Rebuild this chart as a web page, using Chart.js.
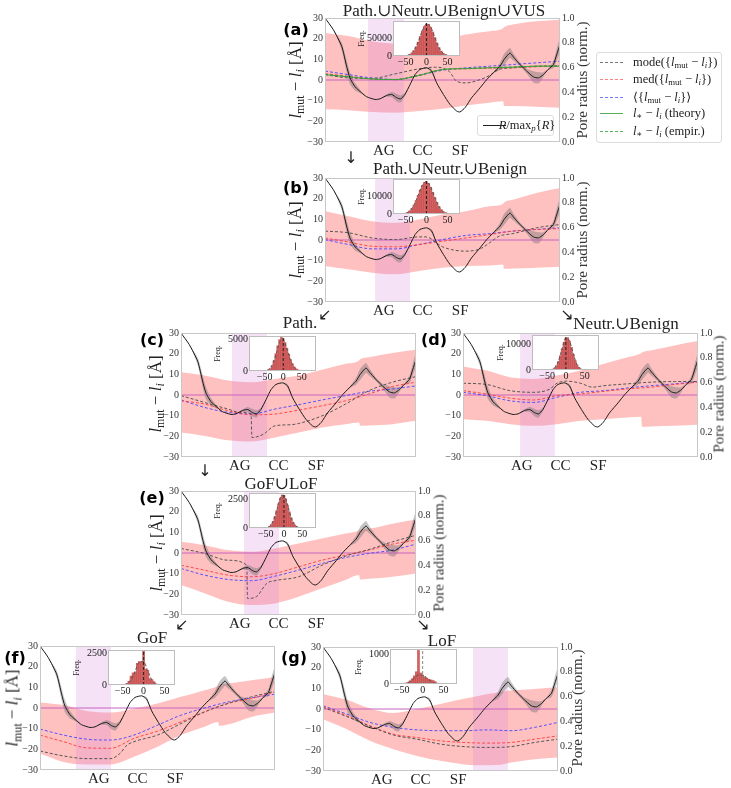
<!DOCTYPE html>
<html>
<head>
<meta charset="utf-8">
<title>l_mut - l_i along the pore axis</title>
<script src="https://cdn.jsdelivr.net/npm/chart.js@4.4.1/dist/chart.umd.min.js"></script>
<style>
  html, body { margin: 0; padding: 0; background: #fff; }
  #fig { position: relative; width: 731px; height: 788px; overflow: hidden;
         font-family: 'Liberation Serif', 'DejaVu Serif', serif; color: #222; }
  #fig canvas { position: absolute; }
  .lbl { position: absolute; white-space: nowrap; line-height: 1; z-index: 5; }
  .title { font-size: 17px; }
  .arrow { font-family: 'DejaVu Sans', sans-serif; font-size: 16px; }
  .tag { font-family: 'DejaVu Sans', sans-serif; font-weight: bold; font-size: 16px; color: #000; }
  .ytitle { font-size: 17px; }
  .rtitle { font-size: 15px; color: #333; }
  .leg { font-size: 12.5px; }
  sub { font-size: 70%; vertical-align: -0.3em; line-height: 0; }
  .box { position: absolute; border: 1px solid #ddd; border-radius: 3px; background: #fff;
         box-sizing: border-box; z-index: 4; }
  .sw { position: absolute; width: 23px; height: 0; z-index: 5; }
</style>
</head>
<body>
<div id="fig"></div>
<script>
// ---- shared axis data ----
const TICK_POS = [25, 41.5, 57.5];
const TICK_LABELS = ['AG', 'CC', 'SF'];
const Y_TICKS = [-30, -20, -10, 0, 10, 20, 30];
const Y1_TICKS = [0, 0.2, 0.4, 0.6, 0.8, 1.0];
const GRID_X = [0, 10, 20, 30, 40, 50, 60, 70, 80, 90, 100];
const BAND_X = [0, 10, 20, 30, 40, 50, 60, 70, 75.8, 76.2, 80, 90, 100];

// pore radius profile (normalised), same in every panel, with its spread
const PORE_X = [0, 3.5, 7.1, 9.2, 10.6, 12.8, 15.6, 17.7, 21.3, 23.4, 26.2, 28.4, 30.5, 32.2, 34.0, 36.2,
                38.3, 40.4, 43.3, 45.4, 47.5, 50.4, 53.2, 56.0, 57.4, 59.6, 62.4, 66.0, 68.8, 71.6, 74.5,
                76.2, 78.7, 80.1, 83.0, 85.8, 88.7, 90.8, 92.9, 95.0, 97.2, 98.6, 100];
const PORE_R = [1.000, 0.907, 0.772, 0.612, 0.517, 0.445, 0.397, 0.365, 0.343, 0.348, 0.375, 0.383, 0.357,
                0.348, 0.383, 0.463, 0.543, 0.585, 0.598, 0.572, 0.477, 0.383, 0.303, 0.250, 0.242, 0.277,
                0.357, 0.437, 0.503, 0.558, 0.612, 0.665, 0.718, 0.687, 0.625, 0.572, 0.525, 0.517, 0.543,
                0.585, 0.625, 0.705, 0.785];
const PORE_W = [0, 0, 0.03, 0.05, 0.05, 0.03, 0.01, 0, 0, 0, 0.01, 0.02, 0.03, 0.03, 0.015, 0, 0, 0, 0,
                0.015, 0, 0, 0, 0, 0, 0, 0, 0, 0, 0.005, 0.03, 0.045, 0.04, 0.03, 0.015, 0.02, 0.045, 0.045,
                0.02, 0.005, 0.03, 0.05, 0.06];

// ---- panel (a) Path.∪Neutr.∪Benign∪VUS ----
const A_HI = [22.8, 21.3, 18.7, 17.6, 17.6, 19.5, 22.0, 23.6, 25.0, 25.5, 26.8, 28.4, 29.2];
const A_LO = [-14.2, -14.6, -15.5, -15.8, -15.0, -13.9, -12.3, -11.0, -10.3, -12.6, -12.6, -13.0, -13.4];
const A_MEAN = [4.3, 2.6, 1.0, 0.2, 2.2, 4.7, 5.9, 6.7, 7.5, 8.3, 9.1];
const A_MED = [3.1, 1.8, 0.5, 0.2, 2.4, 5.0, 5.4, 5.7, 5.9, 6.4, 7.0];
const A_THEORY = [2.6, 1.5, 0.5, 0.2, 2.2, 5.1, 5.5, 5.9, 6.2, 6.7, 6.7];
const A_EMPIR = [2.8, 1.6, 0.5, 0.3, 2.3, 5.0, 5.6, 6.0, 6.3, 6.6, 6.8];
const A_MODE_X = [0, 10, 20, 30, 40, 47, 50, 53, 56, 60, 66, 70, 74, 80, 90, 100];
const A_MODE = [2.6, 1.0, 0.8, 3.0, 5.4, 6.2, 5.8, 4.0, -0.6, -1.4, 0.2, 2.2, 5.1, 5.9, 6.7, 6.7];
const A_SPAN = [18.3, 33.6];

// ---- panel (b) Path.∪Neutr.∪Benign ----
const B_HI = [13.9, 11.5, 9.1, 8.3, 9.9, 12.3, 13.9, 16.3, 17.6, 18.2, 19.5, 22.8, 25.2];
const B_LO = [-12.6, -14.2, -15.8, -16.6, -15.0, -13.4, -12.6, -12.3, -11.8, -13.9, -13.8, -13.4, -13.0];
const B_MEAN = [0.2, -2.2, -4.3, -4.3, -2.2, 0.2, 2.2, 3.1, 4.3, 5.1, 5.9];
const B_MED = [1.0, -1.0, -3.0, -3.3, -2.2, -0.6, 1.0, 2.6, 4.3, 5.1, 5.5];
const B_MODE_X = [0, 10, 20, 30, 40, 43, 50, 60, 66, 70, 74, 80, 90, 100];
const B_MODE = [4.3, 3.5, 1.0, 0.2, 1.5, 1.5, -3.3, -5.4, -4.3, -1.4, 1.8, 3.1, 5.9, 7.5];
const B_SPAN = [21.3, 36.2];

// ---- panel (c) Path. ----
const C_HI = [11.0, 9.4, 7.0, 6.2, 7.8, 9.4, 12.2, 15.1, 16.7, 17.3, 18.3, 20.3, 21.9];
const C_LO = [-18.2, -19.8, -21.9, -22.5, -20.6, -18.2, -15.7, -14.1, -13.3, -14.9, -14.7, -14.1, -12.5];
const C_MEAN = [-2.4, -6.0, -8.4, -9.2, -6.8, -4.7, -2.4, -0.3, 1.8, 2.9, 4.4];
const C_MED = [-2.8, -4.4, -7.6, -9.6, -9.2, -7.3, -5.2, -2.8, 0.5, 4.1, 6.2];
const C_MODE_X = [0, 10, 20, 25, 29.8, 30.2, 35, 40, 46.5, 50, 60, 70, 80, 90, 100];
const C_MODE = [-0.3, -3.6, -6.8, -8.4, -9.2, -20.6, -19.0, -14.9, -14.4, -13.8, -10.1, -4.4, 2.1, 6.2, 8.9];
const C_SPAN = [21.7, 36.6];

// ---- panel (d) Neutr.∪Benign ----
const D_HI = [13.8, 11.8, 8.6, 7.8, 9.4, 11.8, 15.1, 18.3, 20.2, 20.6, 21.5, 24.0, 26.1];
const D_LO = [-11.7, -12.5, -14.1, -14.9, -14.1, -12.5, -11.7, -10.9, -10.5, -15.4, -15.2, -14.9, -14.4];
const D_MEAN = [1.3, -0.3, -2.8, -3.6, -1.1, 1.3, 2.1, 3.4, 4.5, 5.4, 6.5];
const D_MED = [2.1, 0.5, -1.5, -2.4, -0.3, 0.5, 1.8, 2.9, 3.8, 5.1, 6.2];
const D_MODE_X = [0, 10, 20, 30, 37, 40, 44, 50, 55, 60, 70, 80, 90, 100];
const D_MODE = [5.7, 5.1, 2.1, 1.3, 2.9, 5.7, 6.7, 5.7, 3.8, 4.5, 5.4, 6.2, 6.5, 6.5];
const D_SPAN = [24.3, 39.1];

// ---- panel (e) GoF∪LoF ----
const E_HI = [5.4, 3.8, 1.4, 0.6, 2.2, 4.6, 7.0, 9.4, 11.0, 11.4, 11.8, 14.2, 16.2];
const E_LO = [-15.5, -19.5, -23.6, -25.2, -24.4, -21.2, -17.1, -13.1, -10.7, -12.8, -12.5, -11.5, -9.9];
const E_MEAN = [-7.5, -10.7, -12.8, -13.4, -11.2, -8.3, -5.1, -2.2, -0.2, 1.4, 4.3];
const E_MED = [-5.9, -8.3, -10.7, -11.5, -9.9, -6.7, -3.5, -1.0, 1.4, 4.3, 6.2];
const E_MODE_X = [0, 10, 20, 28, 28.3, 32, 36.5, 40, 50, 60, 70, 80, 90, 100];
const E_MODE = [2.2, -0.2, -3.5, -5.9, -22.0, -21.2, -14.7, -13.4, -11.5, -5.9, -1.5, 1.7, 5.4, 8.6];
const E_SPAN = [26.8, 41.7];

// ---- panel (f) GoF ----
const F_HI = [2.7, 1.4, -1.5, -2.2, -0.2, 2.2, 5.4, 8.6, 10.8, 11.2, 11.8, 13.4, 15.0];
const F_LO = [-22.0, -26.1, -27.3, -27.3, -23.6, -18.7, -13.1, -9.1, -6.8, -8.6, -8.0, -4.3, -2.2];
const F_MEAN = [-10.2, -13.1, -15.1, -15.5, -13.1, -8.3, -3.5, 0.0, 2.9, 4.9, 6.7];
const F_MED = [-13.1, -16.3, -19.3, -19.5, -14.7, -11.2, -6.7, -1.9, 2.2, 4.6, 7.8];
const F_MODE_X = [0, 10, 20, 30, 34, 37, 40, 50, 60, 70, 80, 90, 100];
const F_MODE = [-20.8, -23.2, -24.5, -24.5, -22.0, -18.0, -16.3, -13.1, -7.5, -1.9, 2.2, 5.4, 8.1];
const F_SPAN = [15.3, 30.2];

// ---- panel (g) LoF ----
const G_HI = [7.3, 4.5, 0.3, -1.9, 0.0, 2.4, 4.9, 7.3, 8.4, 8.5, 8.9, 9.7, 10.5];
const G_LO = [-4.9, -9.7, -15.4, -19.5, -22.7, -25.1, -26.8, -27.2, -27.0, -26.9, -25.9, -24.3, -23.5];
const G_MEAN = [1.6, -2.4, -6.5, -8.9, -10.1, -10.5, -10.5, -10.1, -10.5, -8.9, -6.5];
const G_MED = [1.3, -3.2, -8.1, -12.2, -13.8, -15.4, -16.2, -16.5, -16.2, -14.6, -13.0];
const G_MODE_X = GRID_X;
const G_MODE = [0.8, -3.6, -8.4, -12.6, -14.6, -17.0, -18.2, -18.6, -18.2, -16.2, -14.6];
const G_SPAN = [63.8, 78.7];

// ---- inset histograms of l_mut - l_i ----
const HIST_X = [-65, -60, -55, -50, -45, -40, -35, -30, -25, -20, -15, -10, -5, 0, 5, 10, 15, 20, 25,
                30, 35, 40, 45, 50, 55, 60, 65];
const HIST_TICKS = [-50, 0, 50];
const H_A = [40, 120, 330, 850, 2000, 4400, 8600, 15700, 26000, 39800, 55800, 71700, 84500, 91400, 90600,
             82300, 68600, 52500, 36700, 23700, 14000, 7600, 3700, 1700, 700, 280, 100];
const H_B = [33, 86, 205, 457, 930, 1770, 3110, 5050, 7610, 10600, 13700, 16300, 18050, 18470, 17500,
             15350, 12470, 9370, 6520, 4200, 2500, 1380, 705, 335, 146, 59, 22];
const H_C = [0, 1, 3, 13, 47, 142, 370, 835, 1630, 2720, 3940, 4920, 5300, 5080, 4460, 3590, 2650, 1800,
             1120, 640, 330, 160, 70, 28, 10, 3, 1];
const H_D = [0, 1, 2, 10, 35, 113, 318, 780, 1705, 3270, 5520, 8200, 10700, 12310, 12470, 11120, 8730,
             6030, 3660, 1960, 925, 385, 140, 45, 13, 3, 1];
const H_E = [1, 2, 7, 22, 59, 141, 303, 585, 1005, 1550, 2140, 2645, 2925, 2890, 2560, 2030, 1435, 905,
             518, 263, 119, 48, 18, 6, 2, 1, 0];
const H_F = [0, 0, 0, 5, 40, 120, 300, 700, 950, 1000, 1700, 1850, 1800, 2680, 1250, 1150, 500, 420, 250,
             90, 40, 15, 5, 0, 0, 0, 0];
const H_G = [0, 0, 0, 5, 10, 30, 60, 110, 180, 280, 420, 1150, 380, 300, 250, 200, 160, 140, 120, 80, 30,
             10, 3, 0, 0, 0, 0];
const FIT_X = [-70, -60, -50, -40, -30, -20, -10, 0, 10, 20, 30, 40, 50, 60, 70];
const FIT_A = [20, 120, 850, 4400, 15700, 39800, 71700, 91400, 82300, 52500, 23700, 7600, 1700, 280, 30];
const FIT_B = [10, 86, 457, 1770, 5050, 10600, 16300, 18470, 15350, 9370, 4200, 1380, 335, 59, 8];
const FIT_C = [0, 4, 40, 230, 900, 2500, 4500, 4900, 3400, 1600, 550, 120, 20, 2, 0];
const FIT_D = [0, 1, 10, 113, 780, 3270, 8200, 12310, 11120, 6030, 1960, 385, 45, 3, 0];
const FIT_E = [0, 2, 22, 141, 585, 1550, 2645, 2890, 2030, 905, 263, 48, 6, 1, 0];
const FIT_F = [0, 0, 12, 85, 400, 1100, 1800, 1850, 1100, 400, 85, 12, 1, 0, 0];
const FIT_G = [0, 0, 4, 22, 83, 200, 310, 310, 200, 83, 22, 4, 0, 0, 0];

// ---- colours ----
const SERIF = "'Liberation Serif', 'DejaVu Serif', serif";
const BAND_COLOR = 'rgba(255, 130, 130, 0.5)';
const SPAN_COLOR = 'rgba(215, 140, 225, 0.25)';
const GREY_BAND = 'rgba(110, 110, 110, 0.4)';
const ZERO_COLOR = 'rgb(200, 100, 190)';
const MODE_COLOR = '#555';
const MED_COLOR = 'rgba(255, 60, 60, 0.9)';
const MEAN_COLOR = 'rgba(70, 70, 255, 0.9)';
const GREEN = 'rgb(60, 160, 60)';
const HIST_COLOR = 'rgba(200, 70, 70, 0.85)';
const NONE = 'rgba(0, 0, 0, 0)';
const NO_GRID = { display: false, drawTicks: false };

const fig = document.getElementById('fig');

function pts(xs, ys) {
    return xs.map(function (x, i) { return { x: x, y: ys[i] }; });
}

function minus(v) {
    return v < 0 ? '\u2212' + Math.abs(v) : String(v);
}

// white plot background (insets) and grey frame round the plot area
const framePlugin = {
    id: 'frame',
    beforeDraw: function (chart, args, opts) {
        if (!opts.fill) return;
        const a = chart.chartArea;
        chart.ctx.save();
        chart.ctx.fillStyle = opts.fill;
        chart.ctx.fillRect(a.left, a.top, a.width, a.height);
        chart.ctx.restore();
    },
    afterDatasetsDraw: function (chart, args, opts) {
        const a = chart.chartArea, ctx = chart.ctx;
        ctx.save();
        ctx.strokeStyle = opts.color || '#c8c8c8';
        ctx.lineWidth = 1;
        ctx.strokeRect(a.left + 0.5, a.top + 0.5, a.width - 1, a.height - 1);
        ctx.restore();
    }
};

function addCanvas(x, y, w, h) {
    const c = document.createElement('canvas');
    c.width = w;
    c.height = h;
    c.style.left = x + 'px';
    c.style.top = y + 'px';
    c.style.width = w + 'px';
    c.style.height = h + 'px';
    fig.appendChild(c);
    return c;
}

function put(html, cx, cy, cls, rotate) {
    const d = document.createElement('div');
    d.className = 'lbl ' + (cls || '');
    d.innerHTML = html;
    d.style.left = cx + 'px';
    d.style.top = cy + 'px';
    d.style.transform = 'translate(-50%, -50%)' + (rotate ? ' rotate(-90deg)' : '');
    fig.appendChild(d);
}

function dashed(data, color, dash, extra) {
    return Object.assign({
        data: data, borderColor: color, borderWidth: 1, borderDash: dash,
        pointRadius: 0, fill: false, cubicInterpolationMode: 'monotone'
    }, extra || {});
}

function drawPanel(p) {
    const W = 235, H = 124, LW = 40, RW = 28, TP = 7, BH = 24;
    const canvas = addCanvas(p.left - LW, p.top - TP, LW + W + RW, TP + H + BH);

    const datasets = [
        { data: [{ x: p.span[0], y: 30 }, { x: p.span[1], y: 30 }], fill: 'start',
          backgroundColor: SPAN_COLOR, borderColor: NONE, borderWidth: 0, pointRadius: 0, order: 9 },
        { data: pts(BAND_X, p.hi), fill: '+1', backgroundColor: BAND_COLOR, borderColor: NONE,
          borderWidth: 0, pointRadius: 0, cubicInterpolationMode: 'monotone', order: 10 },
        { data: pts(BAND_X, p.lo), fill: false, borderColor: NONE, borderWidth: 0, pointRadius: 0,
          cubicInterpolationMode: 'monotone', order: 10 },
        { yAxisID: 'y1', data: PORE_X.map(function (x, i) { return { x: x, y: PORE_R[i] + PORE_W[i] }; }),
          fill: '+1', backgroundColor: GREY_BAND, borderColor: NONE, borderWidth: 0, pointRadius: 0,
          tension: 0.2, order: 8 },
        { yAxisID: 'y1', data: PORE_X.map(function (x, i) { return { x: x, y: PORE_R[i] - PORE_W[i] }; }),
          fill: false, borderColor: NONE, borderWidth: 0, pointRadius: 0, tension: 0.2, order: 8 },
        dashed([{ x: 0, y: 0 }, { x: 100, y: 0 }], ZERO_COLOR, [], { order: 6 }),
        dashed(pts(p.modeX, p.mode), MODE_COLOR, [3, 2], { order: 4 }),
        dashed(pts(GRID_X, p.med), MED_COLOR, [3, 2], { order: 4 }),
        dashed(pts(GRID_X, p.mean), MEAN_COLOR, [3, 2], { order: 4 })
    ];
    if (p.theory) {
        datasets.push(dashed(pts(GRID_X, p.theory), GREEN, [], { order: 3 }));
        datasets.push(dashed(pts(GRID_X, p.empir), GREEN, [3, 2], { order: 3 }));
    }
    datasets.push(dashed(pts(PORE_X, PORE_R), '#1a1a1a', [],
        { yAxisID: 'y1', order: 1, cubicInterpolationMode: 'default', tension: 0.2 }));

    new Chart(canvas, {
        type: 'line',
        data: { datasets: datasets },
        options: {
            responsive: false,
            animation: false,
            events: [],
            layout: { padding: { top: TP, left: 0, right: 0, bottom: 0 } },
            plugins: { legend: { display: false }, tooltip: { enabled: false }, frame: { color: '#c8c8c8' } },
            scales: {
                x: {
                    type: 'linear', min: 0, max: 100,
                    grid: NO_GRID, border: { display: false },
                    afterBuildTicks: function (s) { s.ticks = TICK_POS.map(function (v) { return { value: v }; }); },
                    afterFit: function (s) { s.height = BH; s.paddingLeft = 0; s.paddingRight = 0; },
                    ticks: {
                        callback: function (v, i) { return TICK_LABELS[i]; },
                        font: { family: SERIF, size: 15 }, color: '#222', padding: 0,
                        maxRotation: 0, autoSkip: false
                    }
                },
                y: {
                    position: 'left', min: -30, max: 30,
                    grid: NO_GRID, border: { display: false },
                    afterBuildTicks: function (s) { s.ticks = Y_TICKS.map(function (v) { return { value: v }; }); },
                    afterFit: function (s) { s.width = LW; s.paddingTop = 0; s.paddingBottom = 0; },
                    ticks: { callback: minus, font: { family: SERIF, size: 10 }, color: '#333', padding: 2 }
                },
                y1: {
                    position: 'right', min: 0, max: 1,
                    grid: NO_GRID, border: { display: false },
                    afterBuildTicks: function (s) { s.ticks = Y1_TICKS.map(function (v) { return { value: v }; }); },
                    afterFit: function (s) { s.width = RW; s.paddingTop = 0; s.paddingBottom = 0; },
                    ticks: {
                        display: p.right,
                        callback: function (v) { return v.toFixed(1); },
                        font: { family: SERIF, size: 10 }, color: '#333', padding: 2
                    }
                }
            }
        },
        plugins: [framePlugin]
    });
}

function drawInset(q) {
    const W = 67, H = 35, LW = 36, RW = 4, TP = 6, BH = 13;
    const canvas = addCanvas(q.left - LW, q.top - TP, LW + W + RW, TP + H + BH);
    new Chart(canvas, {
        type: 'bar',
        data: {
            datasets: [
                { type: 'line', data: [{ x: 0, y: 0 }, { x: 0, y: q.ymax }], borderColor: q.vcolor,
                  borderWidth: 1, borderDash: [3, 2], pointRadius: 0, order: 0 },
                { type: 'line', data: pts(FIT_X, q.fit), borderColor: '#555', borderWidth: 1,
                  borderDash: [3, 2], pointRadius: 0, cubicInterpolationMode: 'monotone', order: 1 },
                { type: 'bar', data: pts(HIST_X, q.hist), backgroundColor: HIST_COLOR, borderWidth: 0,
                  barPercentage: 1, categoryPercentage: 1, order: 2 }
            ]
        },
        options: {
            responsive: false,
            animation: false,
            events: [],
            layout: { padding: { top: TP, left: 0, right: RW, bottom: 0 } },
            plugins: {
                legend: { display: false }, tooltip: { enabled: false },
                frame: { color: '#bdbdbd', fill: '#fff' }
            },
            scales: {
                x: {
                    type: 'linear', min: q.xr[0], max: q.xr[1], offset: false,
                    grid: NO_GRID, border: { display: false },
                    afterBuildTicks: function (s) { s.ticks = HIST_TICKS.map(function (v) { return { value: v }; }); },
                    afterFit: function (s) { s.height = BH; s.paddingLeft = 0; s.paddingRight = 0; },
                    ticks: {
                        callback: minus, font: { family: SERIF, size: 10 }, color: '#222',
                        padding: 0, maxRotation: 0, autoSkip: false
                    }
                },
                y: {
                    min: 0, max: q.ymax,
                    grid: NO_GRID, border: { display: false },
                    afterBuildTicks: function (s) { s.ticks = [{ value: 0 }, { value: q.ytick }]; },
                    afterFit: function (s) { s.width = LW; s.paddingTop = 0; s.paddingBottom = 0; },
                    ticks: { callback: function (v) { return String(v); }, font: { family: SERIF, size: 10 },
                             color: '#222', padding: 1 },
                    title: { display: true, text: 'Freq.', font: { family: SERIF, size: 8 }, color: '#222',
                             padding: { top: 0, bottom: 0 } }
                }
            }
        },
        plugins: [framePlugin]
    });
}

// ---- main panels ----
[
    { left: 325, top: 18, hi: A_HI, lo: A_LO, mean: A_MEAN, med: A_MED, modeX: A_MODE_X, mode: A_MODE,
      span: A_SPAN, right: true, theory: A_THEORY, empir: A_EMPIR },
    { left: 325, top: 178, hi: B_HI, lo: B_LO, mean: B_MEAN, med: B_MED, modeX: B_MODE_X, mode: B_MODE,
      span: B_SPAN, right: true },
    { left: 181, top: 333, hi: C_HI, lo: C_LO, mean: C_MEAN, med: C_MED, modeX: C_MODE_X, mode: C_MODE,
      span: C_SPAN, right: false },
    { left: 463, top: 333, hi: D_HI, lo: D_LO, mean: D_MEAN, med: D_MED, modeX: D_MODE_X, mode: D_MODE,
      span: D_SPAN, right: true },
    { left: 181, top: 491, hi: E_HI, lo: E_LO, mean: E_MEAN, med: E_MED, modeX: E_MODE_X, mode: E_MODE,
      span: E_SPAN, right: true },
    { left: 40, top: 646, hi: F_HI, lo: F_LO, mean: F_MEAN, med: F_MED, modeX: F_MODE_X, mode: F_MODE,
      span: F_SPAN, right: false },
    { left: 323, top: 647, hi: G_HI, lo: G_LO, mean: G_MEAN, med: G_MED, modeX: G_MODE_X, mode: G_MODE,
      span: G_SPAN, right: true }
].forEach(drawPanel);

// ---- insets ----
[
    { left: 393, top: 21, hist: H_A, fit: FIT_A, xr: [-80, 80], ymax: 100000, ytick: 50000, vcolor: '#222' },
    { left: 393, top: 179, hist: H_B, fit: FIT_B, xr: [-80, 80], ymax: 20000, ytick: 10000, vcolor: '#222' },
    { left: 249, top: 336, hist: H_C, fit: FIT_C, xr: [-92, 88], ymax: 5500, ytick: 5000, vcolor: '#222' },
    { left: 532, top: 335, hist: H_D, fit: FIT_D, xr: [-90, 88], ymax: 13500, ytick: 10000, vcolor: '#222' },
    { left: 249, top: 493, hist: H_E, fit: FIT_E, xr: [-96, 88], ymax: 3100, ytick: 2500, vcolor: '#222' },
    { left: 108, top: 650, hist: H_F, fit: FIT_F, xr: [-85, 75], ymax: 2750, ytick: 2500, vcolor: '#222' },
    { left: 390, top: 649, hist: H_G, fit: FIT_G, xr: [-78, 82], ymax: 1200, ytick: 1000, vcolor: '#888' }
].forEach(drawInset);

// ---- titles, arrows, panel tags ----
put('Path.\u222aNeutr.\u222aBenign\u222aVUS', 444, 10, 'title');
put('Path.\u222aNeutr.\u222aBenign', 450, 168, 'title');
put('Path.', 300, 322, 'title');
put('Neutr.\u222aBenign', 626, 323, 'title');
put('GoF\u222aLoF', 281, 483, 'title');
put('GoF', 152, 637, 'title');
put('LoF', 442, 640, 'title');

put('\u2193', 351, 158, 'arrow');
put('\u2199', 325, 315, 'arrow');
put('\u2198', 567, 315, 'arrow');
put('\u2193', 205, 471, 'arrow');
put('\u2199', 182, 625, 'arrow');
put('\u2198', 423, 625, 'arrow');

put('(a)', 296, 30, 'tag');
put('(b)', 296, 188, 'tag');
put('(c)', 152, 340, 'tag');
put('(d)', 434, 340, 'tag');
put('(e)', 152, 498, 'tag');
put('(f)', 15, 658, 'tag');
put('(g)', 294, 658, 'tag');

// axis titles
const Y_TITLE = '<i>l</i><sub>mut</sub> \u2212 <i>l<sub>i</sub></i> [\u00c5]';
const R_TITLE = 'Pore radius (norm.)';
[[295, 80], [295, 240], [155, 394], [156, 553], [12, 708]].forEach(function (c) {
    put(Y_TITLE, c[0], c[1], 'ytitle', true);
});
[[582, 80], [582, 240], [719, 394], [439, 553], [577, 708]].forEach(function (c) {
    put(R_TITLE, c[0], c[1], 'rtitle', true);
});

// ---- legends ----
function box(x, y, w, h) {
    const b = document.createElement('div');
    b.className = 'box';
    b.style.left = x + 'px';
    b.style.top = y + 'px';
    b.style.width = w + 'px';
    b.style.height = h + 'px';
    fig.appendChild(b);
}

function swatch(x, y, style) {
    const s = document.createElement('div');
    s.className = 'sw';
    s.style.left = x + 'px';
    s.style.top = y + 'px';
    s.style.borderTop = style;
    fig.appendChild(s);
}

const DIFF = '{<i>l</i><sub>mut</sub> \u2212 <i>l<sub>i</sub></i>}';
const LEGEND_TEXT = [
    'mode(' + DIFF + ')',
    'med(' + DIFF + ')',
    '\u27e8' + DIFF + '\u27e9',
    '<i>l</i><sub>\u2217</sub> \u2212 <i>l<sub>i</sub></i> (theory)',
    '<i>l</i><sub>\u2217</sub> \u2212 <i>l<sub>i</sub></i> (empir.)'
];
const LEGEND_STYLE = [
    '1px dashed #777',
    '1px dashed rgb(255, 130, 130)',
    '1px dashed rgb(120, 120, 255)',
    '1px solid rgb(90, 175, 90)',
    '1px dashed rgb(90, 175, 90)'
];
const LEGEND_Y = [62, 79, 97, 113, 131];

box(596, 52, 126, 91);
LEGEND_TEXT.forEach(function (t, i) {
    swatch(600, LEGEND_Y[i], LEGEND_STYLE[i]);
    const d = document.createElement('div');
    d.className = 'lbl leg';
    d.innerHTML = t;
    d.style.left = '633px';
    d.style.top = LEGEND_Y[i] + 'px';
    d.style.transform = 'translateY(-50%)';
    fig.appendChild(d);
});

box(477, 115, 77, 21);
swatch(483, 125, '1px solid #222');
put('<i>R</i>/max<sub><i>p</i></sub>{<i>R</i>}', 527, 125, 'leg');
</script>
</body>
</html>
